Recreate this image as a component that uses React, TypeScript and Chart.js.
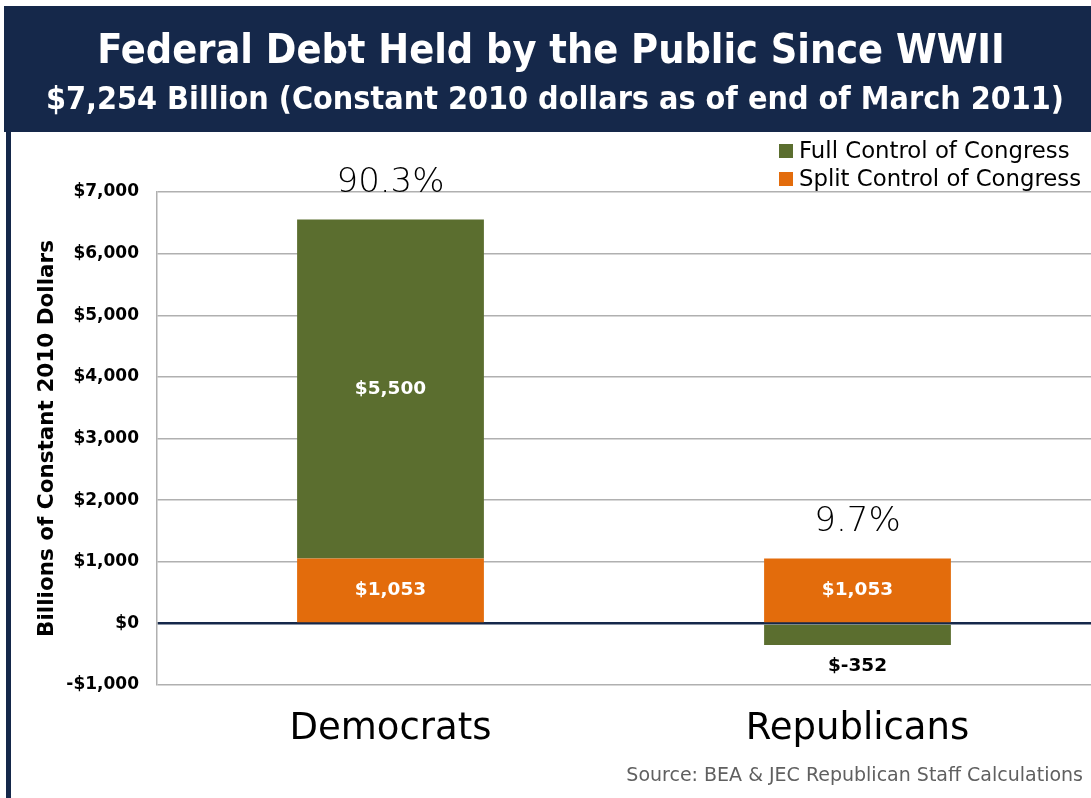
import React, { useEffect, useRef } from "react";
import { Chart, registerables } from "chart.js";

Chart.register(...registerables);

const categories = ["Democrats", "Republicans"];
const fullControl = [5500, -352];
const splitControl = [1053, 1053];
const shareLabels = ["90.3%", "9.7%"];
const yMin = -1000;
const yMax = 7000;
const yStep = 1000;

const titleText = "Federal Debt Held by the Public Since WWII";
const subtitleText = "$7,254 Billion (Constant 2010 dollars as of end of March 2011)";
const yTitleText = "Billions of Constant 2010 Dollars";
const sourceText = "Source: BEA & JEC Republican Staff Calculations";

const NAVY = "#15284a";
const GREEN = "#5b6e2f";
const ORANGE = "#e36c0c";

const fmtMoney = (v: number) => {
  const s = Math.abs(v).toLocaleString("en-US");
  return v < 0 ? "-$" + s : "$" + s;
};
const fmtLabel = (v: number) => (v < 0 ? "$-" + Math.abs(v).toLocaleString("en-US") : "$" + v.toLocaleString("en-US"));

const decorPlugin = {
  id: "decor",
  beforeDraw(chart: any) {
    const ctx = chart.ctx;
    const W = chart.width;
    const H = chart.height;
    ctx.save();
    ctx.fillStyle = "#ffffff";
    ctx.fillRect(0, 0, W, H);
    ctx.fillStyle = NAVY;
    ctx.fillRect(4, 6, W - 4, 126);
    ctx.fillRect(6, 6, 5, H - 6);
    ctx.fillStyle = "#ffffff";
    ctx.textAlign = "center";
    ctx.textBaseline = "middle";
    ctx.font = "bold 41px 'DejaVu Sans Condensed', 'DejaVu Sans'";
    ctx.fillText(titleText, 551, 52);
    ctx.font = "bold 32px 'DejaVu Sans Condensed', 'DejaVu Sans'";
    ctx.fillText(subtitleText, 555, 101);
    ctx.restore();
  },
  afterDraw(chart: any) {
    const ctx = chart.ctx;
    ctx.save();
    // legend (Full first, Split second)
    const items = [
      { label: chart.data.datasets[1].label, color: chart.data.datasets[1].backgroundColor },
      { label: chart.data.datasets[0].label, color: chart.data.datasets[0].backgroundColor },
    ];
    ctx.font = "22.8px 'DejaVu Sans'";
    ctx.textAlign = "left";
    ctx.textBaseline = "middle";
    items.forEach((it, i) => {
      const y = 151 + i * 28;
      ctx.fillStyle = it.color;
      ctx.fillRect(779, y - 7, 14, 14);
      ctx.fillStyle = "#000000";
      ctx.fillText(it.label, 799, y + 1);
    });
    // source
    ctx.font = "19px 'DejaVu Sans'";
    ctx.fillStyle = "#606060";
    ctx.textAlign = "right";
    ctx.fillText(sourceText, 1083, 776);
    ctx.restore();
  },
};

const labelPlugin = {
  id: "barLabels",
  afterDatasetsDraw(chart: any) {
    const ctx = chart.ctx;
    const yScale = chart.scales.y;
    ctx.save();
    ctx.textAlign = "center";
    ctx.textBaseline = "middle";
    ctx.font = "bold 18.5px 'DejaVu Sans'";
    chart.data.datasets.forEach((ds: any, di: number) => {
      const meta = chart.getDatasetMeta(di);
      meta.data.forEach((el: any, i: number) => {
        const v = ds.data[i];
        if (v >= 0) {
          ctx.fillStyle = "#ffffff";
          ctx.fillText(fmtLabel(v), el.x, (el.y + el.base) / 2);
        } else {
          ctx.fillStyle = "#000000";
          ctx.fillText(fmtLabel(v), el.x, Math.max(el.y, el.base) + 21);
        }
      });
    });
    // share labels above stacks
    ctx.font = "200 34px 'DejaVu Sans'";
    ctx.fillStyle = "#000000";
    const meta0 = chart.getDatasetMeta(0);
    categories.forEach((_, i) => {
      let pos = 0;
      chart.data.datasets.forEach((ds: any) => {
        if (ds.data[i] > 0) pos += ds.data[i];
      });
      const y = yScale.getPixelForValue(pos) - 36;
      ctx.fillText(shareLabels[i], meta0.data[i].x, y);
    });
    ctx.restore();
  },
};

export default function App() {
  const ref = useRef<HTMLCanvasElement>(null);
  useEffect(() => {
    if (!ref.current) return;
    const chart = new Chart(ref.current, {
      type: "bar",
      data: {
        labels: categories,
        datasets: [
          {
            label: "Split Control of Congress",
            data: splitControl,
            backgroundColor: ORANGE,
            borderWidth: 0,
          },
          {
            label: "Full Control of Congress",
            data: fullControl,
            backgroundColor: GREEN,
            borderWidth: 0,
          },
        ],
      },
      options: {
        animation: false,
        responsive: false,
        devicePixelRatio: 1,
        layout: { padding: { top: 192, left: 0, right: 0, bottom: 0 } },
        plugins: {
          legend: { display: false },
          tooltip: { enabled: false },
          title: { display: false },
        },
        datasets: { bar: { categoryPercentage: 1, barPercentage: 0.4 } },
        scales: {
          x: {
            stacked: true,
            grid: { display: false, drawTicks: false },
            border: { display: false },
            ticks: {
              color: "#000000",
              font: { family: "'DejaVu Sans'", size: 37 },
              padding: 22,
            },
            afterFit(scale: any) {
              scale.height = 113;
            },
          },
          y: {
            stacked: true,
            min: yMin,
            max: yMax,
            ticks: {
              stepSize: yStep,
              color: "#000000",
              font: { family: "'DejaVu Sans'", size: 17, weight: "bold" },
              padding: 18,
              callback: (v: any) => fmtMoney(Number(v)),
            },
            grid: {
              drawTicks: false,
              color: (c: any) => (c.tick && c.tick.value === 0 ? NAVY : "#b0b0b0"),
              lineWidth: (c: any) => (c.tick && c.tick.value === 0 ? 2.5 : 1.5),
            },
            border: { display: true, color: "#b0b0b0", width: 1.5 },
            title: {
              display: true,
              text: yTitleText,
              color: "#000000",
              font: { family: "'DejaVu Sans'", size: 21.5, weight: "bold" },
              padding: { top: 35, bottom: 0 },
            },
            afterFit(scale: any) {
              scale.width = 157;
            },
          },
        },
      },
      plugins: [decorPlugin, labelPlugin],
    });
    return () => chart.destroy();
  }, []);
  return (
    <div style={{ position: "absolute", left: 0, top: 0, width: 1091, height: 798 }}>
      <canvas ref={ref} width={1091} height={798} style={{ width: 1091, height: 798, display: "block" }} />
    </div>
  );
}
